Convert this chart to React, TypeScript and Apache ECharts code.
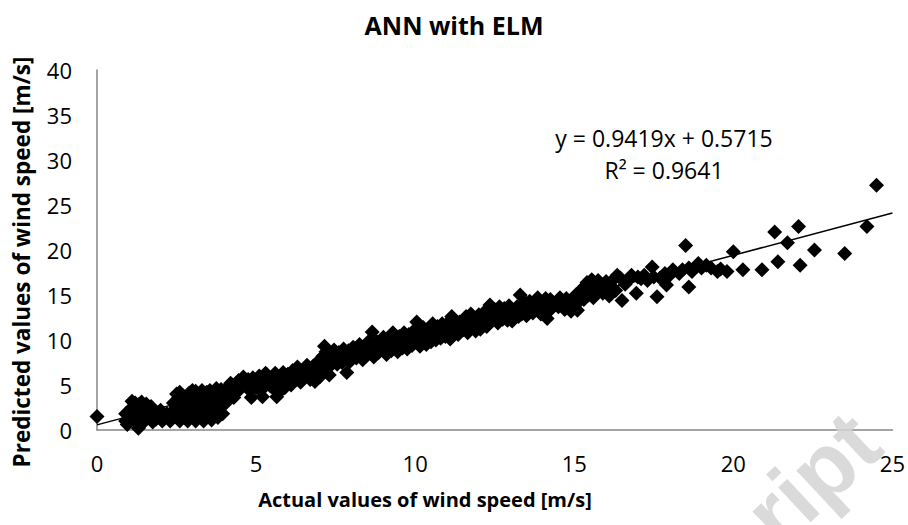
import React, { useEffect, useRef } from "react";
import * as echarts from "echarts";

const chartTitle = "ANN with ELM";
const xAxisTitle = "Actual values of wind speed [m/s]";
const yAxisTitle = "Predicted values of wind speed [m/s]";
const equationLines = ["y = 0.9419x + 0.5715", "R² = 0.9641"];
const watermark = "ript";

const xTicks = { min: 0, max: 25, interval: 5 };
const yTicks = { min: 0, max: 40, interval: 5 };

const trendX = [0, 25];
const trendY = [0.57, 24.12];

const segA: number[][] = [
  [0, 1.5], [0.9, 1.0], [0.95, 0.6], [0.9, 1.8], [1.0, 2.0], [1.05, 1.2], [1.1, 2.5], [1.15, 1.6],
  [1.2, 3.0], [1.25, 0.9], [1.3, 2.8], [1.3, 0.2], [1.35, 2.1], [1.4, 2.5], [1.45, 1.3], [1.5, 2.2],
  [1.5, 1.0], [1.55, 2.9], [1.6, 1.8], [1.65, 2.4], [1.7, 1.4], [1.7, 2.6], [1.75, 0.9], [1.8, 2.0],
  [1.85, 1.2], [1.9, 1.6], [2.0, 2.2], [2.05, 1.0], [1.1, 3.2], [1.2, 2.2], [1.4, 3.1],
];
const segB: number[][] = [
  [2.3, 1.0], [2.35, 2.0], [2.4, 3.0], [2.45, 1.6], [2.5, 2.6], [2.55, 3.5], [2.6, 1.0], [2.65, 2.2],
  [2.7, 3.8], [2.75, 1.4], [2.8, 3.0], [2.85, 1.0], [2.9, 4.1], [2.95, 2.5], [3.0, 3.5], [3.05, 1.8],
  [3.1, 1.0], [3.1, 4.3], [3.15, 2.8], [3.2, 3.9], [3.25, 1.5], [3.3, 4.4], [3.35, 1.0], [3.35, 2.4],
  [3.4, 3.4], [3.45, 4.2], [3.5, 1.9], [3.55, 4.4], [3.6, 1.1], [3.6, 3.0], [3.65, 2.4], [3.7, 4.3],
  [3.75, 3.6], [3.8, 1.4], [3.85, 2.8], [3.9, 4.5], [3.95, 3.4], [4.0, 4.0],
  [2.5, 4.0], [2.2, 1.8], [2.6, 4.2], [2.8, 2.0], [3.0, 4.4], [3.25, 3.2], [3.5, 3.7], [3.75, 4.6],
  [3.95, 1.8], [4.05, 3.0],
];
const segC: number[][] = [
  [4.1, 4.7], [4.2, 5.2], [4.3, 3.6], [4.35, 4.4], [4.45, 5.5], [4.5, 4.8], [4.6, 5.9], [4.7, 5.1],
  [4.8, 4.4], [4.85, 3.6], [4.9, 5.8], [5.0, 4.7], [5.05, 5.2], [5.1, 6.0], [5.2, 3.7], [5.25, 5.5],
  [5.35, 6.1], [5.45, 4.9], [5.5, 5.8], [5.6, 6.3], [5.65, 3.7], [5.7, 4.1], [5.75, 5.5], [5.85, 6.4],
  [5.95, 6.0], [6.05, 5.4], [6.15, 6.6], [6.25, 6.1], [6.35, 6.5], [6.45, 5.9], [6.55, 6.8], [6.65, 6.3],
  [6.7, 5.6], [6.8, 7.1], [6.9, 6.6], [7.0, 5.9], [7.0, 7.4], [7.1, 8.2], [7.15, 9.3],
  [4.15, 3.9], [4.4, 4.2], [4.55, 5.3], [4.75, 5.6], [4.95, 5.0], [5.15, 4.4], [5.3, 6.3], [5.4, 5.2],
  [5.55, 4.6], [5.8, 5.0], [5.9, 4.7], [6.0, 6.2], [6.1, 5.0], [6.2, 5.7], [6.3, 7.0], [6.4, 5.3],
  [6.5, 6.2], [6.6, 7.2], [6.75, 6.0], [6.85, 5.4], [6.95, 7.6], [7.05, 6.6],
];
const segD: number[][] = [
  [7.2, 6.9], [7.3, 6.1], [7.3, 7.6], [7.4, 8.4], [7.5, 7.9], [7.6, 8.6], [7.7, 7.5], [7.85, 6.4],
  [7.8, 8.2], [7.9, 8.8], [8.0, 7.9], [8.1, 8.5], [8.2, 9.0], [8.3, 8.3], [8.4, 8.8], [8.5, 9.4],
  [8.6, 8.6], [8.65, 10.9], [8.75, 9.1], [8.85, 8.6], [8.95, 9.6], [9.05, 9.0], [9.15, 10.2], [9.25, 8.8],
  [9.3, 10.8], [9.4, 9.5], [9.5, 10.4], [9.6, 9.1], [9.7, 9.9], [9.8, 10.6], [9.9, 9.4], [10.0, 10.1],
  [10.05, 12.0],
  [7.2, 8.7], [7.35, 7.2], [7.45, 8.9], [7.55, 7.3], [7.65, 8.0], [7.75, 9.0], [7.95, 7.6], [8.05, 9.2],
  [8.15, 8.0], [8.25, 9.5], [8.35, 7.8], [8.45, 8.2], [8.55, 9.9], [8.7, 8.1], [8.8, 9.8], [8.9, 8.9],
  [9.0, 10.3], [9.1, 8.4], [9.2, 9.4], [9.35, 9.9], [9.45, 8.7], [9.55, 9.6], [9.65, 10.8], [9.75, 9.0],
  [9.85, 10.0], [9.95, 11.0],
];
const segE: number[][] = [
  [10.15, 9.3], [10.2, 10.8], [10.3, 10.0], [10.4, 11.2], [10.5, 9.8], [10.6, 10.6], [10.7, 11.5],
  [10.8, 10.2], [10.9, 11.0], [11.0, 11.8], [11.15, 12.6], [11.2, 10.9], [11.3, 11.4], [11.4, 12.0],
  [11.5, 11.1], [11.6, 12.6], [11.7, 11.6], [11.8, 12.2], [11.9, 11.0], [12.0, 12.8], [12.1, 11.8],
  [12.2, 13.2], [12.35, 13.9], [12.4, 12.4], [12.5, 13.4], [12.6, 11.9], [12.7, 12.9], [12.8, 13.5],
  [12.9, 12.2], [13.0, 13.0], [13.1, 12.4], [13.2, 13.7], [13.3, 15.0], [13.35, 12.9], [13.45, 14.2],
  [13.55, 13.3], [13.65, 13.8],
  [10.1, 10.6], [10.25, 11.4], [10.35, 9.5], [10.45, 10.3], [10.55, 11.8], [10.65, 10.0], [10.75, 10.9],
  [10.85, 11.8], [10.95, 10.4], [11.05, 11.2], [11.1, 10.1], [11.25, 12.2], [11.35, 10.6], [11.45, 11.6],
  [11.55, 12.1], [11.65, 10.8], [11.75, 12.9], [11.85, 11.4], [11.95, 12.4], [12.05, 11.2], [12.15, 12.6],
  [12.25, 11.5], [12.3, 12.9], [12.45, 13.0], [12.55, 12.6], [12.65, 13.7], [12.75, 12.3], [12.85, 13.1],
  [12.95, 13.8], [13.05, 12.1], [13.15, 13.3], [13.25, 12.6], [13.4, 13.6], [13.5, 12.7], [13.6, 14.3],
  [13.7, 13.0],
];
const segF: number[][] = [
  [13.8, 14.2], [13.9, 13.4], [14.0, 13.9], [14.1, 14.6], [14.15, 12.4], [14.3, 13.6], [14.45, 14.2],
  [14.6, 14.4], [14.7, 13.4], [14.85, 14.0], [15.0, 13.7], [15.0, 14.8], [15.1, 13.3], [15.2, 15.2],
  [15.3, 14.5], [15.35, 16.0], [15.4, 16.4], [15.5, 15.6], [15.55, 16.7], [15.6, 14.7], [15.7, 16.2],
  [15.8, 15.5], [15.9, 15.2], [16.0, 16.5],
  [13.75, 13.6], [13.85, 14.7], [13.95, 12.9], [14.05, 14.2], [14.2, 13.2], [14.25, 14.5], [14.35, 14.1],
  [14.5, 13.7], [14.55, 14.7], [14.65, 14.0], [14.75, 14.6], [14.9, 13.2], [14.95, 14.4], [15.05, 15.0],
  [15.15, 14.3], [15.25, 15.7], [15.45, 15.0], [15.6, 16.5], [15.65, 15.8], [15.75, 16.6], [15.85, 16.0],
  [15.95, 15.7],
];
const segG: number[][] = [
  [16.1, 14.9], [16.3, 15.5], [16.35, 17.2], [16.5, 14.4], [16.6, 16.2], [16.8, 17.2], [16.95, 15.2],
  [17.1, 16.8], [17.3, 16.6], [17.45, 18.1], [17.6, 14.8], [17.7, 16.9], [17.9, 16.1], [18.1, 17.8],
  [18.3, 17.4], [18.5, 20.5], [18.6, 15.9], [18.7, 17.6], [18.9, 18.5], [19.0, 18.0], [19.3, 18.0],
  [19.5, 17.6], [19.8, 17.6], [20.0, 19.8], [20.3, 17.8],
  [16.05, 16.0], [16.2, 16.6], [16.45, 16.9], [16.7, 16.6], [17.0, 17.0], [17.2, 17.2], [17.5, 17.0],
  [17.85, 17.4], [18.0, 17.2], [18.4, 17.8], [18.6, 18.0], [19.15, 18.3], [19.6, 17.9],
];
const segH: number[][] = [
  [20.9, 17.8], [21.3, 22.0], [21.4, 18.7], [21.7, 20.8], [22.05, 22.6], [22.1, 18.3], [22.55, 20.0],
  [23.5, 19.6], [24.2, 22.6], [24.5, 27.2],
];

const scatterData = [...segA, ...segB, ...segC, ...segD, ...segE, ...segF, ...segG, ...segH];

const FONT = "'Open Sans', sans-serif";

export default function App() {
  const ref = useRef<HTMLDivElement>(null);
  useEffect(() => {
    if (!ref.current) return;
    const chart = echarts.init(ref.current, null, { renderer: "svg" });
    chart.setOption({
      animation: false,
      backgroundColor: "#ffffff",
      grid: { left: 97, right: 15, top: 70, bottom: 95, containLabel: false },
      xAxis: {
        type: "value",
        min: xTicks.min,
        max: xTicks.max,
        interval: xTicks.interval,
        axisLine: { show: true, onZero: false, lineStyle: { color: "#868686", width: 1.5 } },
        axisTick: { show: false },
        splitLine: { show: false },
        axisLabel: { color: "#000", fontSize: 22, fontFamily: FONT, margin: 22 },
      },
      yAxis: {
        type: "value",
        min: yTicks.min,
        max: yTicks.max,
        interval: yTicks.interval,
        axisLine: { show: true, onZero: false, lineStyle: { color: "#868686", width: 1.5 } },
        axisTick: { show: false },
        splitLine: { show: false },
        axisLabel: { color: "#000", fontSize: 22, fontFamily: FONT, margin: 25 },
      },
      series: [
        {
          type: "scatter",
          data: scatterData,
          symbol: "diamond",
          symbolSize: 15,
          itemStyle: { color: "#000", opacity: 1 },
          z: 2,
        },
        {
          type: "line",
          data: trendX.map((x, i) => [x, trendY[i]]),
          symbol: "none",
          lineStyle: { color: "#000", width: 1.5 },
          z: 3,
        },
      ],
      graphic: [
        {
          type: "text",
          left: "center",
          top: 12,
          style: { text: chartTitle, fontSize: 25, fontWeight: "bold", fontFamily: FONT, fill: "#000" },
        },
        {
          type: "text",
          x: 425,
          y: 499,
          style: {
            text: xAxisTitle, fontSize: 20, fontWeight: "bold", fontFamily: FONT, fill: "#000",
            align: "center", verticalAlign: "middle",
          },
        },
        {
          type: "text",
          x: 21,
          y: 262,
          rotation: Math.PI / 2,
          style: {
            text: yAxisTitle, fontSize: 22.5, fontWeight: "bold", fontFamily: FONT, fill: "#000",
            align: "center", verticalAlign: "middle",
          },
        },
        {
          type: "text",
          x: 664,
          y: 138,
          style: {
            text: equationLines[0], fontSize: 23, fontFamily: FONT, fill: "#000",
            align: "center", verticalAlign: "middle",
          },
        },
        {
          type: "text",
          x: 664,
          y: 170,
          style: {
            text: equationLines[1], fontSize: 23, fontFamily: FONT, fill: "#000",
            align: "center", verticalAlign: "middle",
          },
        },
        {
          type: "text",
          x: 812,
          y: 478,
          rotation: 0.75,
          z: 100,
          style: {
            text: watermark, fontSize: 90, fontWeight: "bold", fontFamily: "'Liberation Sans', sans-serif",
            fill: "#d4d4d4", opacity: 0.85, align: "center", verticalAlign: "middle",
          },
        },
      ],
    });
    return () => chart.dispose();
  }, []);
  return (
    <div
      ref={ref}
      style={{ position: "fixed", left: 0, top: 0, width: 908, height: 525 }}
    />
  );
}
